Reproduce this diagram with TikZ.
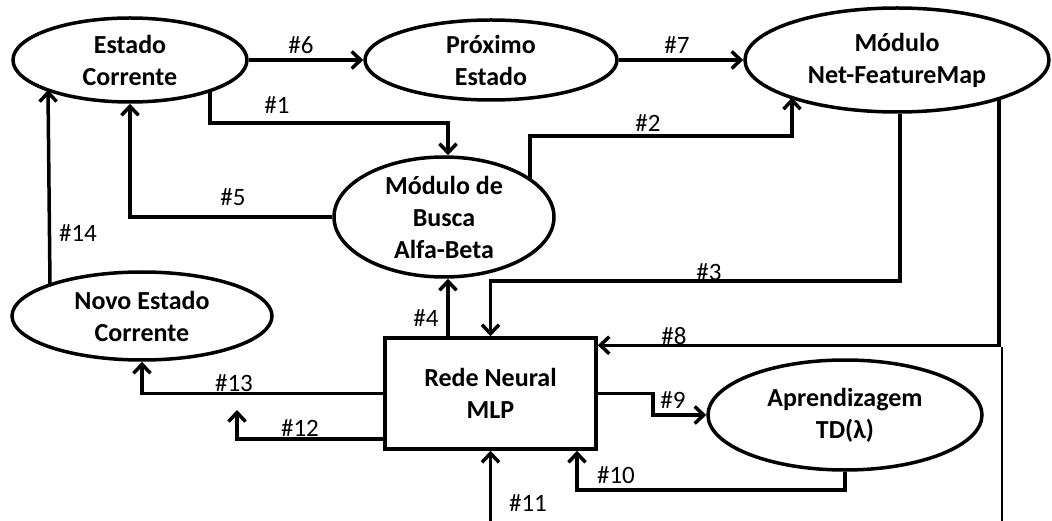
\documentclass[tikz,border=0pt]{standalone}
\usepackage{fontspec}
\setmainfont{Carlito}
\usetikzlibrary{shapes.geometric,arrows.meta,calc}
\begin{document}
\begin{tikzpicture}[x=1pt,y=-1pt,
  wire/.style={line width=3.5pt},
  flow/.style={wire,-{Straight Barb[length=9pt,width=17pt]}},
  state/.style={ellipse,draw,line width=3.5pt,inner sep=0pt,align=center,
    font=\fontsize{26}{32}\selectfont\bfseries},
  module/.style={rectangle,draw,line width=3.5pt,inner sep=0pt,align=center,
    font=\fontsize{26}{32}\selectfont\bfseries},
  tag/.style={inner sep=0pt,font=\fontsize{25}{30}\selectfont}
]
% canvas
\fill[white] (0,0) rectangle (1052,521);
\useasboundingbox (0,0) rectangle (1052,521);

% modules and states
\node[state,minimum width=234pt,minimum height=84pt]  (ec)  at (130,60)    {Estado\\Corrente};
\node[state,minimum width=252pt,minimum height=80pt]  (pe)  at (491,60)    {Próximo\\Estado};
\node[state,minimum width=304pt,minimum height=104pt] (nfm) at (897,60)    {Módulo\\Net-FeatureMap};
\node[state,minimum width=220pt,minimum height=120pt] (ab)  at (444,217)   {Módulo de\\Busca\\Alfa-Beta};
\node[state,minimum width=260pt,minimum height=88pt]  (nv)  at (142,316)   {Novo Estado\\Corrente};
\node[module,minimum width=211pt,minimum height=111pt](mlp) at (490.5,393.5){Rede Neural\\MLP};
\node[state,minimum width=274pt,minimum height=110pt] (ap)  at (845,415)   {Aprendizagem\\TD(λ)};

% free ends
\coordinate (feed)    at (490.5,521);
\coordinate (out12)   at (237,410);
\coordinate (railtop) at (1002,347);
\coordinate (railend) at (1002,521);

% connectors
\draw[flow] (ec.east) -- (pe.west);
\draw[flow] (pe.east) -- (nfm.west);
\draw[flow] ($(ec.center)+(80,30.6)$) |- ($(ab.north)+(4,-32)$) -- ($(ab.north)+(4,0)$);
\draw[flow] ($(ab.center)+(86,-37)$) |- ($(nfm.center)+(-105,76)$) -- ($(nfm.center)+(-105,37.6)$);
\draw[flow] (ab.west) -| (ec.south);
\draw[flow] ($(nv.center)+(-92,-31)$) -- ($(ec.center)+(-82,30)$);
\draw[flow] ($(nfm.south)+(3,0)$) |- ($(mlp.north)+(0,-55)$) -- (mlp.north);
\draw[flow] ($(nfm.center)+(102,38.5)$) |- ($(mlp.north east)+(0,9)$);
\draw[line width=1.5pt] (railtop) -- (railend);
\draw[flow] ($(mlp.north)+(-42.5,0)$) -- ($(ab.south)+(4,0)$);
\draw[flow] (mlp.east) -- ++(55,0) |- (ap.west);
\draw[flow] (ap.south) -- ++(0,18) -| ($(mlp.south)+(86.5,0)$);
\draw[flow] (feed) -- (mlp.south);
\draw[flow] ($(mlp.south west)+(0,-12)$) -| (out12);
\draw[flow] (mlp.west) -| (nv.south);

% connector labels
\node[tag] (t1)  at (277,105) {\#1};
\node[tag] (t2)  at (648,123) {\#2};
\node[tag] (t3)  at (709,272) {\#3};
\node[tag] (t4)  at (426,318) {\#4};
\node[tag] (t5)  at (233,197) {\#5};
\node[tag] (t6)  at (301,45)  {\#6};
\node[tag] (t7)  at (677,45)  {\#7};
\node[tag] (t8)  at (674,336) {\#8};
\node[tag] (t9)  at (673,400) {\#9};
\node[tag] (t10) at (616,475) {\#10};
\node[tag] (t11) at (528,503) {\#11};
\node[tag] (t12) at (300,428) {\#12};
\node[tag] (t13) at (234,383) {\#13};
\node[tag] (t14) at (78,233)  {\#14};
\end{tikzpicture}
\end{document}
